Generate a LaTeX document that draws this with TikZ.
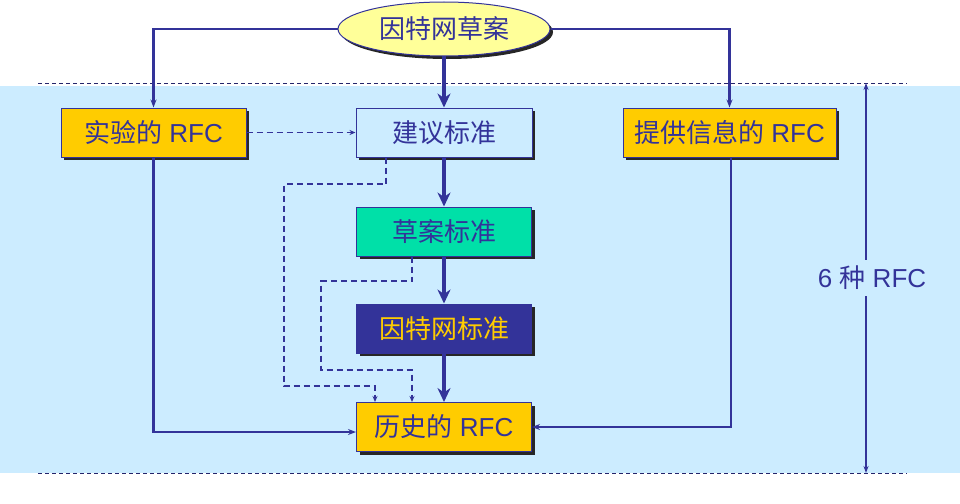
\documentclass[tikz,border=0pt]{standalone}
\usepackage{fontspec}
\setmainfont{Liberation Sans}
\newfontfamily\cjk{Noto Sans CJK SC}
\usetikzlibrary{shapes.geometric,shadows,arrows.meta}
\definecolor{navy}{HTML}{333399}
\definecolor{bgblue}{HTML}{CCECFF}
\definecolor{gold}{HTML}{FFCC00}
\definecolor{mint}{HTML}{00E0A8}
\definecolor{paleyellow}{HTML}{FFFF99}
\tikzset{
  every node/.style={font=\fontsize{26}{30}\selectfont, text=navy},
  box/.style={rectangle, draw=navy, line width=1pt, minimum height=49pt, inner sep=0pt,
    drop shadow={shadow xshift=3pt, shadow yshift=-3pt, opacity=1, fill=black!85}},
  ell/.style={ellipse, draw=navy, line width=1pt, fill=paleyellow, minimum width=212pt, minimum height=54pt, inner sep=0pt,
    drop shadow={shadow xshift=3pt, shadow yshift=-3pt, opacity=1, fill=black!85}},
  thinarrow/.style={draw=navy, line width=2.2pt, -{Stealth[length=8pt,width=6pt]}},
  thinline/.style={draw=navy, line width=2.6pt},
  thickarrow/.style={draw=navy, line width=4.5pt, -{Stealth[length=14pt,width=13pt]}},
  dashline/.style={draw=navy, line width=1.6pt, dash pattern=on 6pt off 4pt, -{Stealth[length=6pt,width=5pt]}},
  sepline/.style={draw=navy!70!black, line width=0.8pt, dash pattern=on 4pt off 3pt},
}
\begin{document}
\begin{tikzpicture}[x=1pt,y=-1pt]
\useasboundingbox (0,0) rectangle (960,503);
\fill[bgblue] (0,86) rectangle (960,473);
\draw[sepline] (38,83) -- (907,83);
\draw[sepline] (38,473) -- (907,473);

\node[ell] (top) at (444,29) {\cjk 因特网草案};
\node[box, fill=gold, minimum width=185pt] (exp) at (153.5,132.5) {{\cjk 实验的} RFC};
\node[box, fill=bgblue, minimum width=176pt] (prop) at (444,132.5) {\cjk 建议标准};
\node[box, fill=gold, minimum width=213pt] (info) at (729.5,132.5) {{\cjk 提供信息的} RFC};
\node[box, fill=mint, minimum width=175pt] (draft) at (444,231.5) {\cjk 草案标准};
\node[box, fill=navy, minimum width=175pt, text=gold] (std) at (444,328.5) {\cjk 因特网标准};
\node[box, fill=gold, minimum width=175pt] (hist) at (444,427) {{\cjk 历史的} RFC};

\draw[thinarrow] (top.west) -| (exp.north);
\draw[thinarrow] (top.east) -| (info.north);
\draw[thickarrow] (top.south) -- (prop.north);
\draw[thickarrow] (prop.south) -- (draft.north);
\draw[thickarrow] (draft.south) -- (std.north);
\draw[thickarrow] (std.south) -- (hist.north);

\draw[thinline, -{Stealth[length=8pt,width=6pt]}] (exp.south) |- ([yshift=-5pt]hist.west);
\draw[thinline, -{Stealth[length=8pt,width=6pt]}] ([xshift=1.5pt]info.south) |- (hist.east);

\draw[dashline] (exp.east) -- (prop.west);
\draw[dashline] ([xshift=-58pt]prop.south) |- (284,184) -- (284,386) -| ([xshift=-69pt]hist.north);
\draw[dashline] ([xshift=-32pt]draft.south) |- (321,281) -- (321,370) -| ([xshift=-32pt]hist.north);

\coordinate (rt) at (866,83);
\coordinate (rb) at (866,473);
\draw[draw=navy, line width=1.4pt, {Stealth[length=7pt,width=5pt]}-{Stealth[length=7pt,width=5pt]}] (rt) -- (rb);
\node[fill=bgblue, inner xsep=2pt, inner ysep=6pt] (lbl) at (872,278) {6 {\cjk 种} RFC};
\end{tikzpicture}
\end{document}
